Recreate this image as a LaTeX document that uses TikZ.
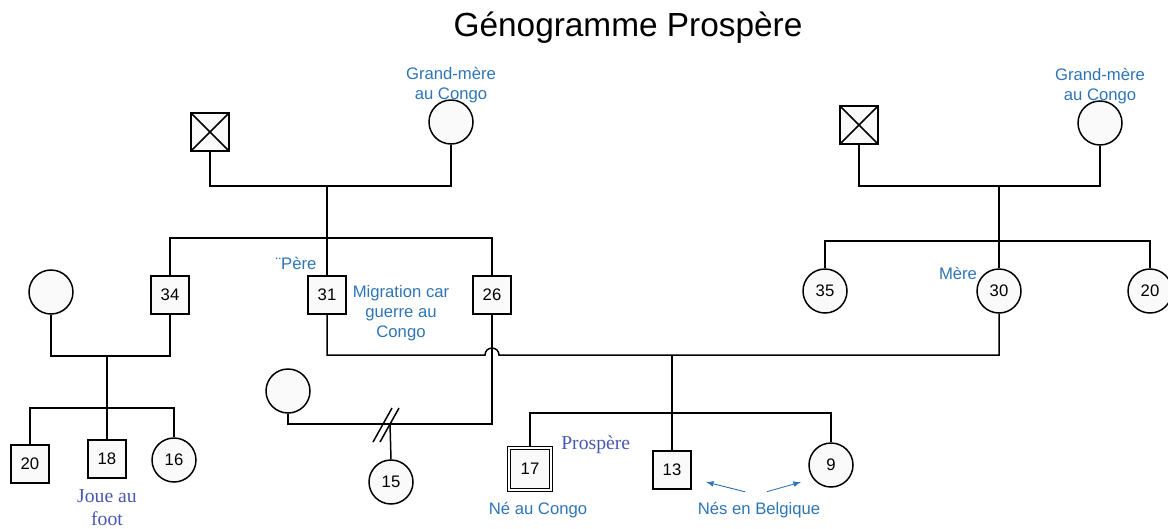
\documentclass[tikz,border=0pt]{standalone}
\usepackage{fontspec}
\setmainfont{Liberation Sans}
\newfontfamily\penfont{Liberation Serif}
\usetikzlibrary{arrows,positioning}

\definecolor{noteblue}{RGB}{46,117,182}
\definecolor{penblue}{RGB}{72,88,176}

\begin{document}
\begin{tikzpicture}[x=0.02cm,y=-0.02cm,line width=0.85pt]
       \tikzstyle{every node}=[font=\fontsize{9.5}{11.3}\selectfont]
       \tikzstyle{male}=[draw,fill=black!2,minimum size=0.76cm,inner sep=0pt]
       \tikzstyle{female}=[draw,fill=black!2,circle,minimum size=0.88cm,inner sep=0pt]
       \tikzstyle{dead}=[male,path picture={\draw
         (path picture bounding box.north west) -- (path picture bounding box.south east)
         (path picture bounding box.south west) -- (path picture bounding box.north east);}]
       \tikzstyle{self}=[male,minimum size=0.84cm,double,double distance=1.1pt]
       \tikzstyle{note}=[text=noteblue,align=center,inner sep=0pt]
       \tikzstyle{pen}=[text=penblue,align=center,inner sep=0pt,font=\penfont\fontsize{11.2}{13}\selectfont]
       \tikzstyle{pointer}=[noteblue,line width=0.5pt,-latex]

       \useasboundingbox (0,0) rectangle (1168,528);
       \node[font=\fontsize{19}{23}\selectfont] (title) at (628,28) {Génogramme Prospère};

       % grands-parents paternels
       \node[dead]   (gp1) at (210,132) {};
       \node[female] (gm1) at (451,122) {};
       \node[note, above=-2.3pt of gm1] (gm1n) {Grand-mère\\au Congo};
       \coordinate (c1) at (327,186);
       \coordinate (s1) at (327,238);

       % grands-parents maternels
       \node[dead]   (gp2) at (859,125) {};
       \node[female] (gm2) at (1100,123) {};
       \node[note, above=-2.3pt of gm2] (gm2n) {Grand-mère\\au Congo};
       \coordinate (c3) at (999,186);
       \coordinate (s3) at (999,241);

       % parents, oncles et tantes
       \node[male]   (p34) at (170,295) {34};
       \node[male]   (p31) at (327,295) {31};
       \node[male]   (p26) at (492,295) {26};
       \node[female] (lw)  at (51,292)  {};
       \node[female] (m35) at (825,291) {35};
       \node[female] (m30) at (999,291) {30};
       \node[female] (m20) at (1150,291) {20};
       \node[note] (pere) at (296,263) {¨Père};
       \node[note] (mere) at (958,273) {Mère};
       \node[note] (migr) at (401,313) {Migration car\\guerre au\\Congo};

       % cousins
       \coordinate (c2) at (107,356);
       \coordinate (s2) at (107,408);
       \node[male]   (k20) at (30,464)  {20};
       \node[male]   (k18) at (107,459) {18};
       \node[female] (k16) at (174,460) {16};
       \node[pen, below=6pt of k18] (foot) {Joue au\\foot};

       \node[female] (w2)  at (288,391) {};
       \coordinate (c5) at (390,424);
       \node[female] (k15) at (391,482) {15};

       % enfants
       \coordinate (hop) at (485,355);
       \coordinate (c4) at (672,355);
       \coordinate (s4) at (672,413);
       \node[self]   (k17) at (530,469) {17};
       \node[male]   (k13) at (672,470) {13};
       \node[female] (k9)  at (831,465) {9};
       \node[pen, above right=-4pt and 5pt of k17] (prosp) {Prospère};
       \node[note] (congo) at (538,510) {Né au Congo};
       \node[note] (belg) at (759,510) {Nés en Belgique};
       \coordinate (t13) at (706,482);
       \coordinate (t9) at (801,482);

       \draw (gp1.south) |- (c1) -| (gm1.south);
       \draw (c1) -- (p31.north);
       \draw (p34.north) |- (s1) -| (p26.north);

       \draw (gp2.south) |- (c3) -| (gm2.south);
       \draw (c3) -- (m30.north);
       \draw (m35.north) |- (s3) -| (m20.north);

       \draw (lw.south) |- (c2) -| (p34.south);
       \draw (c2) -- (k18.north);
       \draw (k20.north) |- (s2) -| (k16.north);

       \draw (p31.south) |- (hop) arc[start angle=180,end angle=360,radius=7] -| (m30.south);
       \draw (c4) -- (k13.north);
       \draw (k17.north) |- (s4) -| (k9.north);

       \draw (p26.south) |- (c5) -| (w2.south);
       \draw (c5) -- (k15.north);
       \draw (373,442) -- (392,408) (380,442) -- (399,408);

       \draw[pointer] ([xshift=-8pt,yshift=5.5pt]belg.north) -- (t13);
       \draw[pointer] ([xshift=4.5pt,yshift=5.5pt]belg.north) -- (t9);
\end{tikzpicture}
\end{document}
